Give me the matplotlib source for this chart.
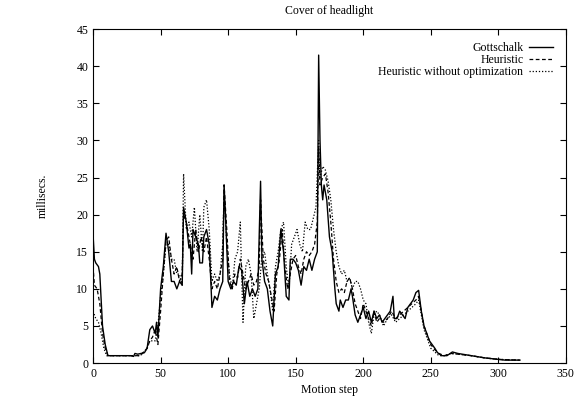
import numpy as np
import matplotlib.pyplot as plt

plt.rcParams['font.family'] = ['Liberation Serif', 'DejaVu Serif']

# Gottschalk (solid)
g_x = [0, 1, 2, 4, 5, 7, 9, 11, 14, 20, 28, 30, 31, 33, 38, 40, 42, 44, 46, 47, 48, 50, 52, 54, 56, 58, 60, 62, 64, 66,
       67, 69, 71, 72, 73, 74, 76, 78, 79, 81, 82, 84, 86, 88, 90, 92, 94, 96, 97, 98, 100, 102, 104, 106, 108, 110,
       112, 114, 116, 118, 120, 122, 124, 125, 127, 129, 131, 133, 135, 137, 139, 141, 143, 145, 146, 148, 150, 152,
       154, 156, 158, 160, 162, 164, 166, 167, 168, 169, 170, 171, 173, 175, 177, 179, 180, 182, 183, 185, 187, 189,
       191, 192, 194, 196, 198, 200, 202, 204, 206, 208, 210, 212, 214, 216, 218, 220, 222, 223, 225, 227, 229, 231,
       233, 235, 237, 239, 241, 243, 245, 247, 249, 251, 253, 255, 258, 262, 266, 270, 280, 290, 300, 305, 316]
g_y = [17.3, 14, 13.5, 13, 12, 5, 2.5, 1, 1, 1, 1, 0.9, 1.3, 1.2, 1.4, 2, 4.5, 5, 4, 5.5, 3.5, 10, 13, 17.5, 15, 11, 11,
       10, 11, 10.5, 21, 19, 15.5, 16, 12, 18, 17, 16, 13.5, 13.5, 17, 18, 16, 7.5, 9, 8.5, 10, 11, 24, 20, 11, 10, 11,
       10.5, 13, 12.5, 8, 11, 9, 10, 9, 10, 24.5, 14, 11, 10, 7, 5, 12, 13, 18, 15, 9, 8.5, 14, 14, 13.5, 12.5, 10.5,
       13, 12.5, 14, 12.5, 14, 15, 41.5, 30, 24, 22, 24, 22, 17, 15, 10, 8, 7, 8.5, 7.5, 8.5, 8.5, 10, 9, 6.5, 5.5, 6.5,
       7.5, 6, 7, 5.5, 7, 6, 6.5, 5.5, 6, 6.5, 7, 9, 6, 6, 7, 6.5, 6, 7.5, 8, 8.5, 9.5, 9.8, 7, 5, 4, 3, 2.5, 2, 1.4, 1,
       1, 1.5, 1.3, 1, 0.7, 0.5, 0.4, 0.4]

# Heuristic (dashed)
h_x = [0, 1, 3, 5, 7, 9, 11, 20, 28, 35, 40, 42, 44, 46, 48, 50, 52, 54, 56, 58, 60, 62, 64, 66, 67, 69, 71, 73, 74, 76,
       78, 80, 82, 84, 86, 88, 90, 92, 94, 96, 97, 99, 101, 103, 105, 107, 109, 111, 113, 115, 117, 119, 121, 123, 124,
       126, 128, 130, 132, 134, 136, 138, 140, 142, 144, 146, 148, 150, 152, 154, 156, 158, 160, 162, 164, 166, 167,
       168, 170, 172, 174, 176, 178, 180, 182, 184, 186, 188, 190, 192, 194, 196, 198, 200, 202, 204, 206, 208, 210,
       212, 215, 218, 221, 224, 227, 230, 233, 236, 239, 241, 243, 245, 248, 250, 253, 256, 260, 265, 270, 280, 290,
       300, 316]
h_y = [13, 10.5, 10, 8, 4, 2, 1, 1, 1, 1, 2, 3, 3.5, 4.5, 2.5, 7, 12, 16.5, 17, 14, 12, 13, 11, 12, 20, 19, 17, 15, 14,
       18, 15, 17, 15, 17, 14, 10, 11, 10, 12, 14, 24, 18, 11, 10, 12, 11.5, 14, 12, 10, 11, 12, 10.5, 11, 13, 22, 14,
       12, 11, 9, 7, 12, 14, 18, 13, 10, 12, 14, 14.5, 13, 12, 14, 15, 14.5, 15, 16, 19, 29, 24, 25, 25.5, 23, 19, 14,
       11, 9.5, 10, 9.5, 11, 11.5, 10, 8, 7, 6, 8, 7, 6, 5, 7, 5.5, 6, 5.5, 6, 7, 6, 6.5, 7, 7.5, 8, 8.5, 9, 7, 5, 3.5,
       2.5, 1.8, 1.3, 1, 1.3, 1.2, 1, 0.7, 0.5, 0.4]

# Heuristic without optimization (dotted)
n_x = [0, 2, 4, 6, 8, 10, 20, 35, 40, 42, 44, 46, 48, 50, 52, 54, 56, 58, 60, 62, 64, 66, 67, 69, 71, 73, 75, 77, 79,
       81, 82, 84, 86, 88, 90, 92, 94, 96, 97, 99, 101, 103, 105, 107, 109, 110, 111, 113, 115, 117, 119, 121, 123, 125,
       127, 129, 131, 133, 135, 137, 139, 141, 143, 145, 147, 149, 151, 153, 155, 157, 159, 161, 163, 165, 167, 168,
       170, 172, 174, 176, 178, 180, 182, 184, 186, 188, 190, 192, 194, 196, 198, 200, 202, 204, 206, 208, 210, 212,
       215, 218, 221, 224, 227, 230, 233, 236, 239, 241, 243, 245, 248, 250, 253, 256, 260, 265, 270, 280, 290, 300, 316]
n_y = [7, 6, 5.5, 4, 2, 1, 1, 1, 2, 3, 3, 3, 5, 9, 12, 16, 16, 14, 14, 12, 12, 10.5, 25.5, 18, 19, 17, 21, 15, 20, 15,
       21, 22, 18, 11, 12, 11, 12, 16, 23, 16, 12, 10, 14, 15, 19, 12, 5.5, 13, 14, 12, 6, 8, 10, 14.5, 15, 12, 10, 7,
       13, 15, 18, 19, 13, 10, 16, 17, 18, 16, 15, 19, 18, 18, 19.5, 21, 30, 25, 26.5, 26, 24.5, 22, 18, 15, 13, 12,
       12.5, 11, 11.5, 10, 11, 11, 10, 8.5, 8, 5.5, 4, 6.5, 7, 6.5, 5, 6, 6.5, 5.5, 6, 6.5, 7, 7.5, 8, 8.5, 6.5, 4.5, 3,
       2, 1.5, 1, 1, 1.3, 1.2, 1, 0.7, 0.5, 0.4]

fig = plt.figure(figsize=(5.78, 3.99), dpi=100)
ax = fig.add_axes([0.161, 0.090, 0.818, 0.837])

ax.plot(g_x, g_y, color='black', linewidth=1.0, linestyle='-', label='Gottschalk')
ax.plot(h_x, h_y, color='black', linewidth=0.9, linestyle=(0, (3, 2)), label='Heuristic')
ax.plot(n_x, n_y, color='black', linewidth=0.9, linestyle=(0, (1, 1.5)), label='Heuristic without optimization')

ax.set_xlim(0, 350)
ax.set_ylim(0, 45)
ax.set_xticks(np.arange(0, 351, 50))
ax.set_yticks(np.arange(0, 46, 5))
ax.tick_params(direction='in', top=True, right=True, labelsize=8.5, length=4, width=0.8)
for s in ax.spines.values():
    s.set_linewidth(0.8)

ax.set_title('Cover of headlight', fontsize=8.5, pad=11)
ax.set_xlabel('Motion step', fontsize=8.5, labelpad=3)
ax.set_ylabel('millisecs.', fontsize=8.5, labelpad=20)

ax.legend(loc='upper right', frameon=False, markerfirst=False, fontsize=8.5,
          handlelength=2.0, handletextpad=0.5, labelspacing=0.0, borderaxespad=0.7,
          alignment='right')

fig.savefig('out.png', dpi=100)
